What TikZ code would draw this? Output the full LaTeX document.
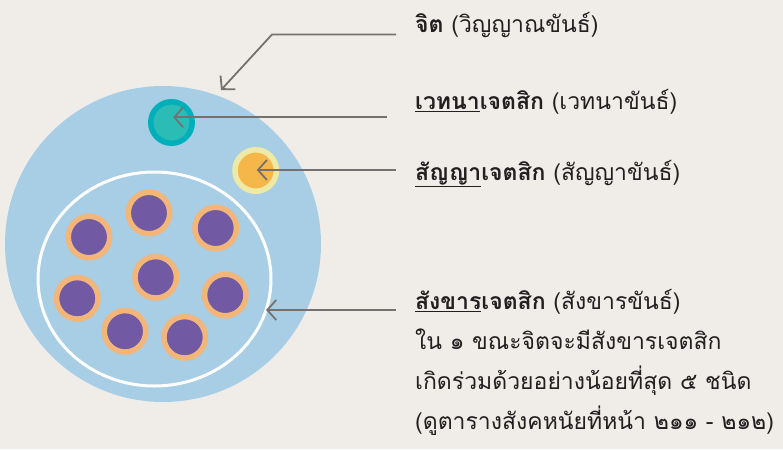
\documentclass[tikz,border=0pt]{standalone}
\usepackage{fontspec}
\newfontfamily\thaifont[Script=Thai]{Loma}
\usetikzlibrary{arrows.meta}
\definecolor{bgcream}{HTML}{F0EDE9}
\definecolor{cellblue}{HTML}{A8CEE6}
\definecolor{arrowgray}{HTML}{767171}
\definecolor{tealring}{HTML}{00AFBA}
\definecolor{tealfill}{HTML}{2BBDB5}
\definecolor{paleyellow}{HTML}{EEEAA5}
\definecolor{sunorange}{HTML}{F5B74A}
\definecolor{grainring}{HTML}{F2B57A}
\definecolor{grainpurple}{HTML}{7159A3}
\definecolor{inktext}{HTML}{231F20}
\tikzset{
  pointer/.style={draw=arrowgray, line width=1.8pt,
    -{Straight Barb[length=9pt,width=20pt]}},
  dot/.style={circle, inner sep=0pt, line width=5.5pt, minimum size=41.5pt},
  grain/.style={dot, draw=grainring, fill=grainpurple},
  notetext/.style={anchor=base west, inner sep=0pt, text=inktext,
    font=\thaifont\fontsize{23}{40}\selectfont, align=left}
}
\begin{document}
\begin{tikzpicture}[x=1pt,y=-1pt]
    \useasboundingbox[fill=bgcream] (0,0) rectangle (783,449);
    % cell and inner group
    \fill[cellblue] (163,244) circle (158pt);
    \draw[white, line width=3pt] (154.5,279) ellipse [x radius=116.5pt, y radius=107pt];
    \node[dot, draw=tealring, fill=tealfill] (vedana) at (171.5,122.5) {};
    \node[dot, draw=paleyellow, fill=sunorange] (sanna) at (255.7,170.5) {};
    \foreach \px/\py [count=\i] in {89/237, 149/213, 215.7/228, 155.7/277.3,
        77.3/298.3, 225.3/295, 125/331.3, 184.7/337.3}
        \node[grain] (g\i) at (\px,\py) {};
    % labels
    \node[notetext] (citlabel) at (415,33) {\textbf{จิต} (วิญญาณขันธ์)};
    \node[notetext] (vedlabel) at (415,110) {\textbf{\underline{เวทนา}เจตสิก} (เวทนาขันธ์)};
    \node[notetext] (sanlabel) at (415,180) {\textbf{\underline{สัญญา}เจตสิก} (สัญญาขันธ์)};
    \node[notetext, anchor=north west] (sanklabel) at (415,289)
        {\textbf{\underline{สังขาร}เจตสิก} (สังขารขันธ์)\\
         ใน ๑ ขณะจิตจะมีสังขารเจตสิก\\
         เกิดร่วมด้วยอย่างน้อยที่สุด ๕ ชนิด\\
         (ดูตารางสังคหนัยที่หน้า ๒๑๑ - ๒๑๒)};
    % pointers
    \coordinate (citfrom) at (396,34.5);
    \coordinate (citbend) at (272,34.5);
    \coordinate (cittip) at (221,90);
    \coordinate (vedfrom) at (387,117.3);
    \coordinate (sanfrom) at (396,170);
    \coordinate (sankfrom) at (396,310);
    \coordinate (sanktip) at (266,310);
    \draw[pointer] (citfrom) -- (citbend) -- (cittip);
    \draw[pointer] (vedfrom) -- ([xshift=1.5pt]vedfrom -| vedana.center);
    \draw[pointer] (sanfrom) -- ([xshift=1pt]sanfrom -| sanna.center);
    \draw[pointer] (sankfrom) -- (sanktip);
\end{tikzpicture}
\end{document}
